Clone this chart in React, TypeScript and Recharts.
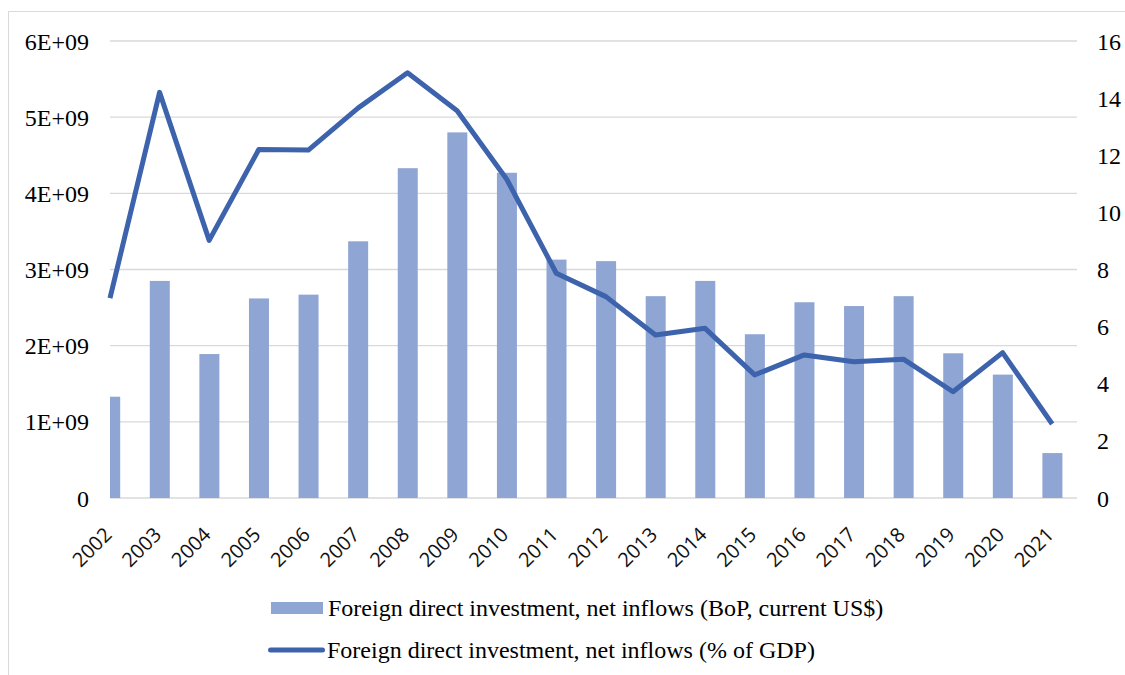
import React from 'react';
import {
  ComposedChart,
  Bar,
  Line,
  XAxis,
  YAxis,
  CartesianGrid,
  Legend,
} from 'recharts';

const years = [
  '2002', '2003', '2004', '2005', '2006', '2007', '2008', '2009', '2010', '2011',
  '2012', '2013', '2014', '2015', '2016', '2017', '2018', '2019', '2020', '2021',
];

// BoP, current US$
const fdiUsd = [
  1.33e9, 2.85e9, 1.89e9, 2.62e9, 2.67e9, 3.37e9, 4.33e9, 4.8e9, 4.27e9, 3.13e9,
  3.11e9, 2.65e9, 2.85e9, 2.15e9, 2.57e9, 2.52e9, 2.65e9, 1.9e9, 1.62e9, 0.59e9,
];

// % of GDP
const fdiGdp = [
  7.0, 14.2, 9.02, 12.2, 12.18, 13.65, 14.89, 13.56, 11.16, 7.87,
  7.05, 5.71, 5.94, 4.31, 5.01, 4.77, 4.86, 3.72, 5.09, 2.59,
];

const leftTicks = [0, 1e9, 2e9, 3e9, 4e9, 5e9, 6e9];
const rightTicks = [0, 2, 4, 6, 8, 10, 12, 14, 16];

const BAR_LABEL = 'Foreign direct investment, net inflows (BoP, current US$)';
const LINE_LABEL = 'Foreign direct investment, net inflows (% of GDP)';

const BAR_COLOR = '#8FA5D4';
const LINE_COLOR = '#3D63AD';
const SERIF = "'Liberation Serif', 'Times New Roman', serif";

const MARGIN_LEFT = 22;
const LEFT_AXIS_W = 88;
const PLOT_LEFT = MARGIN_LEFT + LEFT_AXIS_W;

const data = years.map((year, i) => ({
  year,
  usd: fdiUsd[i],
  gdp: fdiGdp[i],
}));

const formatUsd = (v: number) => (v === 0 ? '0' : `${v / 1e9}E+09`);

// the first bar sits on the left edge of the plot, so cut what falls outside
const ClippedBar = ({ x, y, width, height, fill }: any) => {
  const x0 = Math.max(x, PLOT_LEFT);
  const w = x + width - x0;
  if (w <= 0 || height <= 0) return null;
  return <rect x={x0} y={y} width={w} height={height} fill={fill} />;
};

const YearTick = ({ x, y, payload }: any) => {
  const ax = x + 3;
  const ay = y + 38;
  return (
    <text
      x={ax}
      y={ay}
      transform={`rotate(-45 ${ax} ${ay})`}
      textAnchor="end"
      fontFamily="'Open Sans', sans-serif"
      fontSize={20}
      fill="#111"
    >
      {payload.value}
    </text>
  );
};

const LegendBox = () => (
  <div style={{ fontFamily: SERIF, fontSize: 24, color: '#000', whiteSpace: 'nowrap' }}>
    <div style={{ display: 'flex', alignItems: 'center', height: 30 }}>
      <span
        style={{ display: 'inline-block', marginLeft: 3, width: 52, height: 12, background: BAR_COLOR }}
      />
      <span style={{ marginLeft: 5 }}>{BAR_LABEL}</span>
    </div>
    <div style={{ display: 'flex', alignItems: 'center', height: 30, marginTop: 12 }}>
      <svg width={58} height={8}>
        <line x1={2.5} y1={4} x2={54.5} y2={4} stroke={LINE_COLOR} strokeWidth={5} strokeLinecap="round" />
      </svg>
      <span style={{ marginLeft: 1 }}>{LINE_LABEL}</span>
    </div>
  </div>
);

export default function App() {
  return (
    <div style={{ position: 'relative', width: 1125, height: 675, background: '#fff' }}>
      <style>{'body{margin:0;overflow:hidden}'}</style>
      <div
        style={{
          position: 'absolute',
          left: 8,
          top: 11,
          right: 0,
          bottom: 0,
          borderTop: '1.5px solid #d9d9d9',
          borderLeft: '1.5px solid #d9d9d9',
        }}
      />
      <ComposedChart
        width={1125}
        height={675}
        data={data}
        margin={{ top: 41, right: 0, bottom: 97, left: MARGIN_LEFT }}
        style={{ position: 'absolute', left: 0, top: 0 }}
      >
        <CartesianGrid yAxisId="left" vertical={false} stroke="#d9d9d9" strokeWidth={1.4} />
        <XAxis
          dataKey="year"
          height={80}
          axisLine={false}
          tickLine={false}
          tickSize={0}
          tickMargin={0}
          interval={0}
          padding={{ left: -24.8, right: 0 }}
          tick={<YearTick />}
        />
        <YAxis
          yAxisId="left"
          width={LEFT_AXIS_W}
          domain={[0, 6e9]}
          ticks={leftTicks}
          axisLine={false}
          tickLine={false}
          tickSize={0}
          tickMargin={21}
          tickFormatter={formatUsd}
          tick={{ fontFamily: SERIF, fontSize: 24, fill: '#000' }}
        />
        <YAxis
          yAxisId="right"
          orientation="right"
          width={48}
          domain={[0, 16]}
          ticks={rightTicks}
          allowDataOverflow
          axisLine={false}
          tickLine={false}
          tickSize={0}
          tickMargin={20}
          tick={{ fontFamily: SERIF, fontSize: 24, fill: '#000', textAnchor: 'start' }}
        />
        <Bar
          yAxisId="left"
          dataKey="usd"
          name={BAR_LABEL}
          fill={BAR_COLOR}
          barSize={20}
          shape={<ClippedBar />}
          isAnimationActive={false}
        />
        <Line
          yAxisId="right"
          dataKey="gdp"
          name={LINE_LABEL}
          type="linear"
          stroke={LINE_COLOR}
          strokeWidth={5}
          strokeLinejoin="round"
          dot={false}
          activeDot={false}
          isAnimationActive={false}
        />
        <Legend
          layout="vertical"
          align="center"
          verticalAlign="middle"
          content={<LegendBox />}
          wrapperStyle={{ top: 593, left: 268, width: 'auto', height: 'auto' }}
        />
      </ComposedChart>
    </div>
  );
}
